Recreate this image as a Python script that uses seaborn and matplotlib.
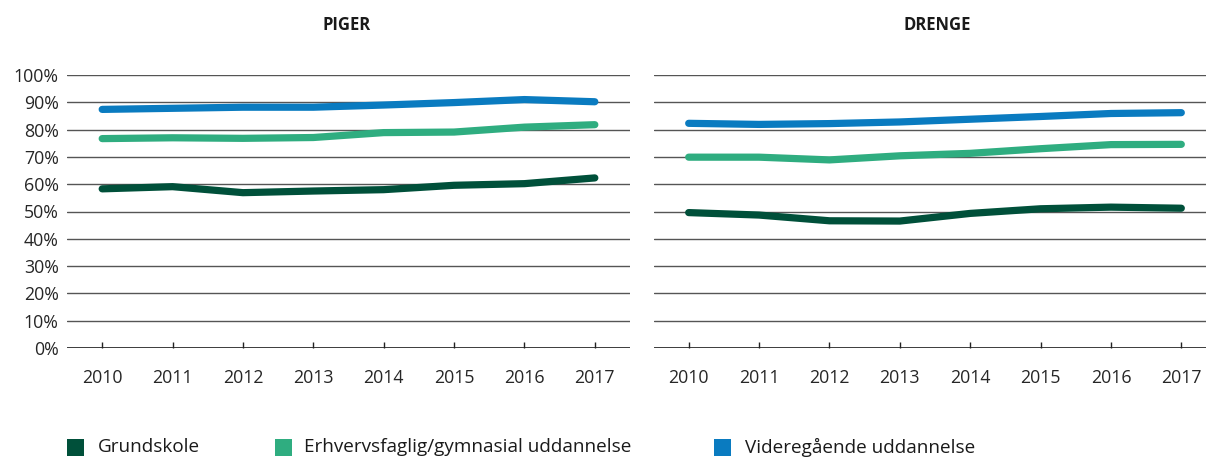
import pandas as pd
import matplotlib.pyplot as plt
import seaborn as sns
from matplotlib.patches import Rectangle

# Andel i beskæftigelse/uddannelse efter forældres uddannelse
years = [2010, 2011, 2012, 2013, 2014, 2015, 2016, 2017]
groups = ["Grundskole", "Erhvervsfaglig/gymnasial uddannelse", "Videregående uddannelse"]
colors = ["#00503a", "#2fad80", "#0a7bc0"]

piger_grund = [58.3, 59.1, 56.9, 57.5, 58.0, 59.6, 60.2, 62.3]
piger_erhverv = [76.7, 77.0, 76.8, 77.1, 78.9, 79.1, 80.9, 81.8]
piger_videre = [87.4, 87.8, 88.2, 88.2, 89.0, 89.9, 91.0, 90.2]

drenge_grund = [49.6, 48.7, 46.6, 46.5, 49.3, 51.0, 51.6, 51.2]
drenge_erhverv = [69.9, 69.9, 68.9, 70.4, 71.3, 73.0, 74.5, 74.6]
drenge_videre = [82.3, 81.9, 82.2, 82.8, 83.8, 84.8, 85.9, 86.2]

rows = []
for panel, series in [("PIGER", [piger_grund, piger_erhverv, piger_videre]),
                      ("DRENGE", [drenge_grund, drenge_erhverv, drenge_videre])]:
    for g, vals in zip(groups, series):
        for y, v in zip(years, vals):
            rows.append({"panel": panel, "group": g, "year": y, "value": v})
df = pd.DataFrame(rows)

sns.set_style("white")
plt.rcParams["font.family"] = ["Open Sans", "DejaVu Sans"]
plt.rcParams["text.color"] = "#1a1a1a"

W, H = 1206, 457
fig = plt.figure(figsize=(W / 100, H / 100), dpi=100)
ax1 = fig.add_axes([67 / W, 109 / H, 563 / W, 273 / H])
ax2 = fig.add_axes([653.5 / W, 109 / H, 563 / W, 273 / H])

pal = dict(zip(groups, colors))
for ax, panel in [(ax1, "PIGER"), (ax2, "DRENGE")]:
    sns.lineplot(data=df[df.panel == panel], x="year", y="value", hue="group",
                 palette=pal, linewidth=5.2, ax=ax, legend=False)
    ax.set_xlim(2009.5, 2017.5)
    ax.set_ylim(0, 100)
    ax.set_yticks(range(0, 101, 10))
    ax.set_xticks(years)
    ax.set_xticklabels([str(y) for y in years])
    ax.grid(axis="y", color="#555555", linewidth=1)
    ax.grid(axis="x", visible=False)
    for s in ax.spines.values():
        s.set_visible(False)
    ax.axhline(0, color="#222222", linewidth=1.2, zorder=1)
    ax.tick_params(axis="x", direction="in", length=4.5, width=1, color="#222222",
                   pad=15, labelsize=12.8, bottom=True)
    ax.tick_params(axis="y", length=0, pad=6, labelsize=12.8)
    ax.set_xlabel("")
    ax.set_ylabel("")
    ax.set_axisbelow(True)

ax1.set_yticklabels([f"{v}%" for v in range(0, 101, 10)])
ax2.set_yticklabels([])

fig.text(346.5 / W, 1 - 25 / H, "PIGER", ha="center", va="center", fontsize=12, fontweight="bold")
fig.text(937 / W, 1 - 25 / H, "DRENGE", ha="center", va="center", fontsize=12, fontweight="bold")

# legend at the bottom: square + label
for g, c, sx, tx in zip(groups, colors, [67, 275, 714], [98, 304, 745]):
    fig.patches.append(Rectangle((sx / W, 1 - 456 / H), 17 / W, 17 / H,
                                 transform=fig.transFigure, facecolor=c, edgecolor="none"))
    fig.text(tx / W, 1 - 447 / H, g, ha="left", va="center", fontsize=13.6)

plt.savefig("out.png", dpi=100)
